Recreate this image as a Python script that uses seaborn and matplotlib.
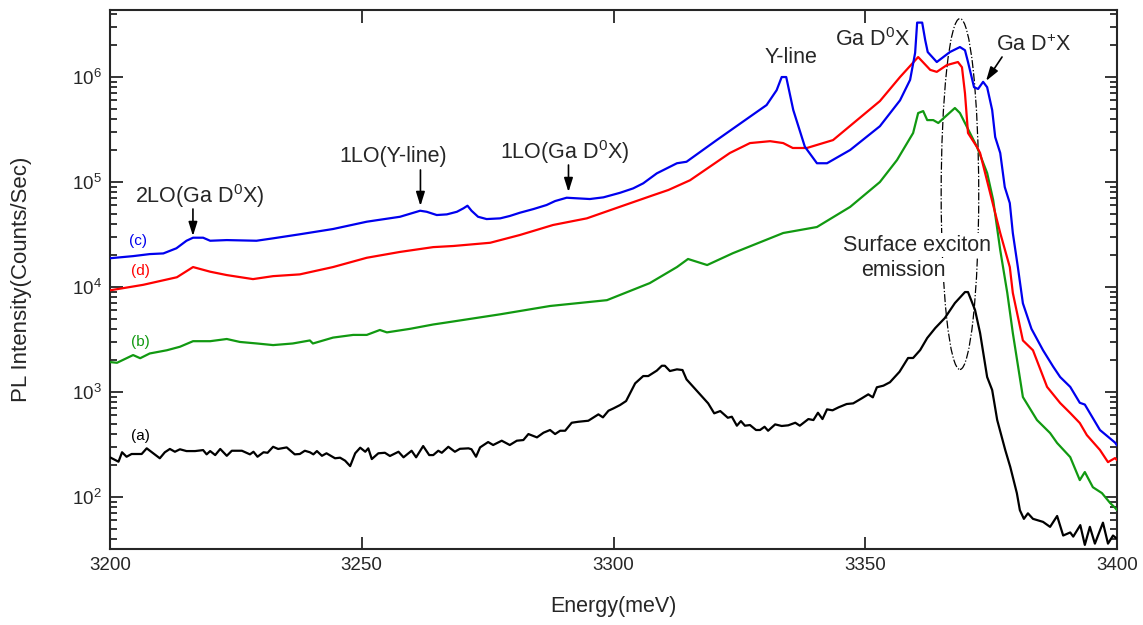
import numpy as np
import pandas as pd
import matplotlib
matplotlib.use("Agg")
import matplotlib.pyplot as plt
import seaborn as sns
from matplotlib.patches import Ellipse
from matplotlib.ticker import LogLocator, NullFormatter, FixedLocator

# ---------------- data ----------------
energy_a = [3200.0, 3201.7, 3202.4, 3203.3, 3204.3, 3206.3, 3207.3, 3208.6, 3209.9, 3210.9,
            3211.9, 3212.9, 3213.9, 3215.2, 3216.9, 3218.5, 3219.2, 3219.9, 3220.9, 3221.9,
            3223.2, 3224.2, 3226.2, 3227.8, 3228.5, 3229.3, 3230.5, 3231.3, 3232.4, 3233.4,
            3235.1, 3236.7, 3237.7, 3238.7, 3239.7, 3240.4, 3241.1, 3242.1, 3243.0, 3244.7,
            3245.7, 3246.7, 3247.7, 3248.7, 3249.7, 3250.7, 3251.3, 3252.0, 3253.3, 3254.6,
            3255.6, 3257.3, 3258.3, 3259.9, 3260.8, 3262.2, 3263.4, 3264.2, 3265.2, 3265.9,
            3267.2, 3268.5, 3269.5, 3271.2, 3271.8, 3272.7, 3273.5, 3275.1, 3276.1, 3277.8,
            3279.4, 3280.8, 3282.1, 3283.1, 3284.8, 3286.1, 3287.4, 3288.4, 3289.4, 3290.4,
            3291.7, 3293.0, 3295.0, 3297.0, 3297.9, 3299.0, 3300.0, 3301.3, 3302.5, 3304.3,
            3305.9, 3306.9, 3308.6, 3309.6, 3310.2, 3311.2, 3312.6, 3313.7, 3314.5, 3318.8,
            3320.0, 3321.2, 3322.7, 3323.5, 3324.5, 3325.3, 3326.1, 3327.1, 3328.3, 3329.1,
            3330.0, 3330.7, 3332.1, 3333.4, 3334.7, 3336.1, 3337.0, 3338.7, 3339.7, 3340.6,
            3341.5, 3342.4, 3343.5, 3344.7, 3346.3, 3347.6, 3349.3, 3350.6, 3351.5, 3352.3,
            3353.6, 3354.9, 3356.8, 3358.5, 3359.5, 3360.9, 3362.3, 3363.9, 3365.8, 3367.8,
            3369.8, 3370.4, 3371.8, 3372.8, 3374.2, 3375.2, 3376.2, 3377.8, 3378.8, 3380.1,
            3380.7, 3381.5, 3382.3, 3383.3, 3385.3, 3386.7, 3388.1, 3389.3, 3390.7, 3391.3,
            3392.7, 3393.6, 3394.6, 3395.6, 3397.2, 3398.2, 3399.2, 3400.0]
intensity_a = [239, 217, 267, 242, 257, 257, 291, 261, 234, 267,
               287, 270, 285, 274, 274, 280, 255, 274, 251, 287,
               247, 276, 276, 255, 270, 242, 267, 264, 301, 287,
               297, 255, 257, 276, 267, 255, 274, 247, 261, 234,
               237, 222, 197, 261, 295, 270, 291, 230, 261, 264,
               246, 270, 239, 276, 239, 306, 251, 251, 276, 264,
               301, 270, 288, 291, 285, 242, 297, 334, 313, 344,
               313, 344, 349, 398, 370, 410, 435, 398, 428, 428,
               510, 521, 533, 613, 574, 664, 699, 752, 821, 1210,
               1420, 1420, 1600, 1780, 1780, 1585, 1645, 1620, 1320, 780,
               627, 659, 569, 582, 478, 529, 478, 485, 435, 435,
               467, 428, 492, 475, 482, 510, 478, 553, 541, 635,
               553, 684, 670, 715, 769, 780, 871, 951, 890, 1110,
               1150, 1240, 1560, 2110, 2110, 2510, 3270, 4070, 5070, 7040,
               8960, 8960, 6040, 3650, 1390, 1045, 541, 280, 193, 109,
               75, 62, 70, 62, 58, 52, 66, 43, 46, 42,
               54, 35, 52, 36, 57, 36, 43, 40]

energy_b = [3200.0, 3201.4, 3204.6, 3206.0, 3207.9, 3211.3, 3213.9, 3216.5, 3219.9, 3223.2,
            3225.8, 3229.2, 3232.4, 3236.3, 3239.7, 3240.3, 3244.3, 3248.3, 3251.0, 3253.6,
            3255.0, 3259.6, 3264.2, 3266.9, 3277.5, 3287.4, 3298.7, 3307.2, 3312.6, 3314.8,
            3318.6, 3323.7, 3333.7, 3340.4, 3347.0, 3352.9, 3356.3, 3359.5, 3360.5, 3361.5,
            3362.3, 3363.5, 3364.5, 3365.8, 3367.8, 3368.8, 3370.2, 3372.2, 3374.2, 3375.4,
            3376.8, 3378.2, 3379.3, 3381.3, 3384.1, 3386.7, 3388.1, 3390.7, 3392.6, 3393.6,
            3395.2, 3397.0, 3398.6, 3399.6, 3400.0]
intensity_b = [1930, 1900, 2250, 2100, 2330, 2500, 2700, 3050, 3050, 3200,
               3000, 2900, 2800, 2900, 3100, 2900, 3300, 3500, 3500, 3900,
               3700, 4000, 4400, 4600, 5500, 6600, 7500, 10900, 15500, 18500,
               16200, 21000, 32700, 37300, 58000, 100000, 162000, 293000, 454000, 474000,
               389000, 389000, 365000, 416000, 507000, 454000, 334000, 215000, 122000, 67400,
               22500, 8800, 3650, 896, 541, 407, 327, 240, 145, 173,
               124, 109, 88, 79, 75]

energy_c = [3200.0, 3204.6, 3207.9, 3210.6, 3213.2, 3215.2, 3216.5, 3218.5, 3219.9, 3223.2,
            3229.1, 3232.4, 3237.7, 3244.3, 3251.0, 3257.6, 3261.6, 3262.9, 3264.9, 3266.9,
            3268.9, 3270.2, 3271.0, 3271.8, 3273.1, 3274.8, 3277.5, 3279.4, 3281.4, 3284.1,
            3286.7, 3288.4, 3290.7, 3292.7, 3295.3, 3298.0, 3301.3, 3303.9, 3305.9, 3308.6,
            3312.6, 3314.5, 3320.5, 3327.1, 3330.4, 3332.4, 3333.4, 3334.3, 3335.7, 3338.0,
            3340.4, 3342.4, 3347.0, 3352.9, 3356.9, 3358.9, 3359.9, 3360.3, 3361.3, 3361.9,
            3362.4, 3364.2, 3366.8, 3368.8, 3369.8, 3370.4, 3371.6, 3372.4, 3373.4, 3374.2,
            3375.2, 3375.8, 3376.8, 3377.7, 3378.7, 3379.3, 3380.3, 3381.3, 3383.0, 3385.3,
            3387.3, 3388.7, 3390.7, 3392.6, 3393.6, 3396.6, 3399.6, 3400.0]
intensity_c = [18800, 19700, 20600, 20900, 23400, 27600, 29500, 29500, 27600, 28000,
               27600, 29100, 31800, 35700, 41900, 46700, 53300, 52100, 48500, 49200,
               52100, 56200, 59500, 53300, 46700, 44400, 45100, 47500, 51000, 55300,
               60400, 65900, 70900, 70000, 68900, 71500, 79000, 87000, 97200, 121000,
               151000, 156000, 251000, 419000, 541000, 750000, 1000000, 1000000, 485000, 217000,
               151000, 151000, 202000, 340000, 600000, 940000, 1700000, 3300000, 3300000, 2250000,
               1730000, 1390000, 1730000, 1930000, 1800000, 1390000, 800000, 770000, 900000, 800000,
               485000, 268000, 189000, 89600, 63000, 32700, 15500, 7000, 4000, 2500,
               1750, 1390, 1120, 790, 760, 435, 330, 310]

energy_d = [3200.0, 3206.6, 3213.3, 3216.5, 3219.9, 3223.2, 3228.4, 3232.4, 3237.7, 3244.3,
            3251.0, 3257.6, 3264.2, 3268.2, 3275.5, 3281.4, 3288.0, 3294.7, 3301.3, 3307.9,
            3310.9, 3315.2, 3323.1, 3327.1, 3331.1, 3333.7, 3335.6, 3338.4, 3343.6, 3352.9,
            3356.9, 3360.5, 3362.9, 3364.2, 3366.2, 3368.4, 3369.2, 3369.8, 3370.4, 3372.2,
            3372.8, 3374.8, 3376.8, 3378.7, 3379.3, 3381.3, 3383.3, 3386.1, 3388.7, 3390.7,
            3392.6, 3394.0, 3396.6, 3398.2, 3399.6, 3400.0]
intensity_d = [9300, 10500, 12400, 15500, 14000, 13000, 11900, 12700, 13200, 15500,
               19000, 21600, 24000, 24600, 26400, 31300, 39000, 45100, 58200, 75000,
               84000, 104000, 189000, 235000, 245000, 235000, 211000, 211000, 251000, 590000,
               1000000, 1550000, 1170000, 1120000, 1300000, 1390000, 1240000, 700000, 293000, 215000,
               189000, 78500, 32700, 15500, 8800, 3100, 2500, 1120, 786, 631,
               507, 389, 281, 215, 235, 225]

sample_labels = ["(a)", "(b)", "(d)", "(c)"]
sample_colors = ["#000000", "#119911", "#ff0000", "#0000ee"]

df = pd.concat([
    pd.DataFrame({"Energy": energy_a, "Intensity": intensity_a, "sample": "(a)"}),
    pd.DataFrame({"Energy": energy_b, "Intensity": intensity_b, "sample": "(b)"}),
    pd.DataFrame({"Energy": energy_d, "Intensity": intensity_d, "sample": "(d)"}),
    pd.DataFrame({"Energy": energy_c, "Intensity": intensity_c, "sample": "(c)"}),
], ignore_index=True)

# ---------------- style ----------------
sns.set_style("ticks")
plt.rcParams["font.family"] = ["Liberation Sans", "DejaVu Sans"]
plt.rcParams["mathtext.fontset"] = "custom"
plt.rcParams["mathtext.rm"] = "Liberation Sans"
plt.rcParams["mathtext.it"] = "Liberation Sans:italic"
plt.rcParams["mathtext.bf"] = "Liberation Sans:bold"

fig = plt.figure(figsize=(11.43, 6.25), dpi=100)
ax = fig.add_axes([0.0962, 0.1216, 0.8811, 0.8624])

sns.lineplot(data=df, x="Energy", y="Intensity", hue="sample",
             hue_order=sample_labels, palette=sample_colors,
             estimator=None, sort=False, legend=False, lw=1.6, ax=ax, zorder=3)

ax.set_yscale("log")
ax.set_xlim(3200, 3400)
ax.set_ylim(32, 4.35e6)
ax.xaxis.set_major_locator(FixedLocator([3200, 3250, 3300, 3350, 3400]))
ax.yaxis.set_major_locator(LogLocator(base=10, numticks=20))
ax.yaxis.set_minor_locator(LogLocator(base=10, subs=np.arange(2, 10), numticks=20))
ax.yaxis.set_minor_formatter(NullFormatter())

for s in ax.spines.values():
    s.set_linewidth(1.5)
ax.tick_params(which="both", direction="in", top=True, right=True, width=1.3)
ax.tick_params(which="major", length=9, labelsize=13.5, pad=6)
ax.tick_params(which="minor", length=5)

ax.set_xlabel("Energy(meV)", fontsize=15.5)
ax.set_ylabel("PL Intensity(Counts/Sec)", fontsize=16)
ax.xaxis.set_label_coords(0.5, -0.088)
ax.yaxis.set_label_coords(-0.077, 0.5)

# curve labels
curve_text = {"(c)": (0.0278, 0.5714), "(d)": (0.0298, 0.5158),
              "(b)": (0.0298, 0.384), "(a)": (0.0298, 0.2096)}
for lab, col in zip(sample_labels, sample_colors):
    x, y = curve_text[lab]
    ax.text(x, y, lab, color=col, fontsize=11, ha="center", va="center",
            transform=ax.transAxes)

ann_fs = 15.5
ap = dict(arrowstyle="-|>,head_length=0.7,head_width=0.22", color="black",
          lw=1.2, mutation_scale=12, shrinkA=0, shrinkB=0)

ax.text(0.0894, 0.6549, "2LO(Ga D$^{0}$X)", fontsize=ann_fs, ha="center",
        va="center", transform=ax.transAxes)
ax.annotate("", xy=(0.0824, 0.5807), xytext=(0.0824, 0.6308),
            xycoords="axes fraction", textcoords="axes fraction", arrowprops=ap)

ax.text(0.281, 0.7273, "1LO(Y-line)", fontsize=ann_fs, ha="center",
        va="center", transform=ax.transAxes)
ax.annotate("", xy=(0.3083, 0.6364), xytext=(0.3083, 0.7032),
            xycoords="axes fraction", textcoords="axes fraction", arrowprops=ap)

ax.text(0.4518, 0.7365, "1LO(Ga D$^{0}$X)", fontsize=ann_fs, ha="center",
        va="center", transform=ax.transAxes)
ax.annotate("", xy=(0.4553, 0.6623), xytext=(0.4553, 0.7124),
            xycoords="axes fraction", textcoords="axes fraction", arrowprops=ap)

ax.text(0.6763, 0.911, "Y-line", fontsize=ann_fs, ha="center", va="center",
        transform=ax.transAxes)
ax.text(0.7577, 0.946, "Ga D$^{0}$X", fontsize=ann_fs, ha="center",
        va="center", transform=ax.transAxes)
ax.text(0.9176, 0.935, "Ga D$^{+}$X", fontsize=ann_fs, ha="center",
        va="center", transform=ax.transAxes)
ax.annotate("", xy=(0.8699, 0.8683), xytext=(0.8858, 0.9128),
            xycoords="axes fraction", textcoords="axes fraction", arrowprops=ap)

# surface exciton ellipse and text
ell = Ellipse((0.844, 0.6586), 0.0373, 0.651, transform=ax.transAxes,
              fill=False, ec="black", lw=0.9, ls="-.", zorder=1)
ax.add_patch(ell)
ax.text(0.8014, 0.564, "Surface exciton", fontsize=ann_fs, ha="center",
        va="center", transform=ax.transAxes, zorder=2,
        bbox=dict(fc="white", ec="none", pad=1))
ax.text(0.7875, 0.5176, "emission", fontsize=ann_fs, ha="center",
        va="center", transform=ax.transAxes, zorder=2,
        bbox=dict(fc="white", ec="none", pad=1))

fig.savefig("out.png", dpi=100)
